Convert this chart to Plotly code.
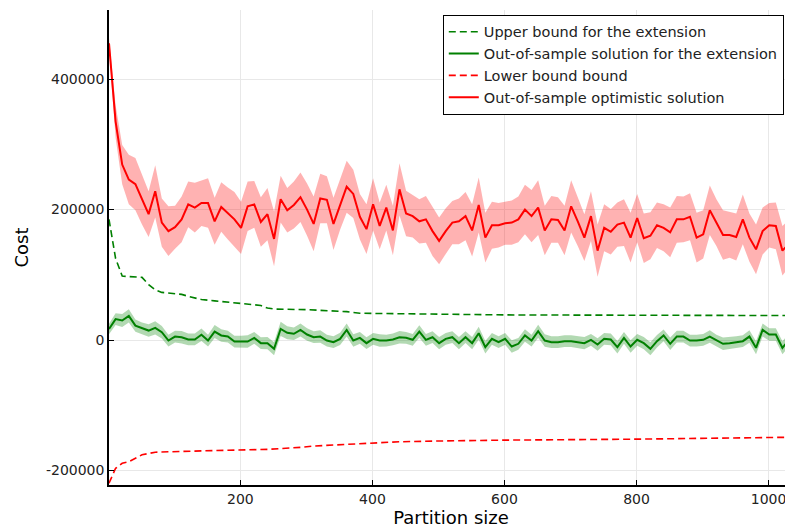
import plotly.graph_objects as go

# Partition sizes
partition = list(range(1, 1042, 10))

# Out-of-sample optimistic solution (red solid)
red_mean = [455000, 335000, 269000, 246000, 239000, 215000, 193000, 228000, 180000, 167000,
            173000, 185000, 208000, 203000, 210000, 210000, 182000, 204000, 194000, 185000,
            172000, 205000, 208000, 181000, 193000, 155000, 216000, 199000, 207000, 219000,
            200000, 178000, 217000, 215000, 178000, 207000, 235000, 224000, 189000, 170000,
            208000, 175000, 203000, 168000, 231000, 194000, 190000, 182000, 185000, 167000,
            152000, 167000, 180000, 182000, 190000, 168000, 207000, 157000, 176000, 176000,
            179000, 180000, 185000, 200000, 190000, 203000, 168000, 185000, 184000, 168000,
            205000, 182000, 157000, 190000, 137000, 172000, 166000, 177000, 180000, 157000,
            187000, 156000, 160000, 176000, 172000, 165000, 185000, 185000, 189000, 157000,
            162000, 199000, 180000, 161000, 161000, 158000, 185000, 157000, 139000, 167000,
            176000, 175000, 137000, 148000, 149000]
red_halfwidth = [8000, 25000, 30000, 38000, 40000, 38000, 35000, 40000, 37000, 38000,
                 33000, 35000, 35000, 38000, 35000, 38000, 36000, 38000, 40000, 42000,
                 40000, 38000, 36000, 38000, 40000, 42000, 36000, 34000, 36000, 38000,
                 40000, 42000, 38000, 36000, 40000, 38000, 40000, 37000, 35000, 38000,
                 40000, 36000, 35000, 38000, 40000, 35000, 33000, 34000, 36000, 38000,
                 36000, 35000, 33000, 35000, 37000, 40000, 42000, 38000, 36000, 34000,
                 33000, 34000, 35000, 38000, 40000, 42000, 38000, 36000, 35000, 38000,
                 40000, 38000, 36000, 38000, 40000, 36000, 35000, 34000, 36000, 38000,
                 37000, 38000, 36000, 35000, 36000, 38000, 36000, 35000, 36000, 38000,
                 37000, 38000, 36000, 38000, 35000, 36000, 38000, 37000, 38000, 36000,
                 34000, 36000, 38000, 36000, 35000]

# Out-of-sample solution for the extension (green solid)
green_mean = [17000, 32000, 30000, 37000, 22000, 18000, 14500, 18600, 12000, -800,
              5300, 4300, 800, 800, 8000, -800, 13000, 7000, 5300, -2300,
              -2300, -2300, 3300, -4800, -4800, -13500, 17000, 11000, 9500, 15500,
              8400, 4300, 5300, -800, -3300, 1800, 15500, -800, 3300, -4800,
              1800, -800, -800, 800, 4300, 3300, 300, 13000, 300, 4300,
              -4800, 1800, 4300, -4800, 4300, -4800, 10400, -11000, 1800, -3300,
              1800, -10000, -5800, 7000, -800, 13400, -800, -3300, -3300, -1800,
              -1800, -3300, -4800, 300, -6900, 1800, 800, -11000, 3300, -10000,
              300, -4800, -13500, -1800, 7000, -5800, 5300, 5300, -800, -800,
              300, 5300, -800, -5800, -4800, -3300, -1800, 5300, -12000, 15500,
              8400, 8400, -12000, 300, -800]
green_halfwidth = [8000, 9000, 10000, 10000, 9500, 9000, 9500, 10000, 9500, 9000,
                   9000, 9500, 9000, 9000, 9500, 9000, 10000, 9500, 9000, 9000,
                   9000, 9500, 9000, 9000, 9500, 10000, 11000, 10000, 9500, 10000,
                   9500, 9000, 9500, 9000, 9000, 9500, 10000, 9500, 9000, 9000,
                   9000, 9500, 9000, 9000, 9500, 9000, 9000, 9500, 9000, 9000,
                   9500, 9000, 9000, 9500, 9000, 9500, 10000, 9500, 9000, 9000,
                   9000, 9500, 9000, 9500, 9000, 10000, 9500, 9000, 9000, 9000,
                   9000, 9000, 9500, 9000, 9500, 9000, 9000, 9500, 9000, 9500,
                   9000, 9500, 10000, 9500, 9000, 9500, 9000, 9000, 9000, 9000,
                   9000, 9500, 9000, 9500, 9000, 9000, 9000, 9500, 10000, 10000,
                   9500, 9500, 10000, 9500, 9000]

# Upper bound for the extension (green dashed), breakpoints
upper_x = [1, 11, 21, 31, 41, 51, 61, 71, 81, 91, 101, 111, 121, 131, 141, 161, 181, 201,
           221, 231, 241, 251, 301, 341, 361, 381, 441, 501, 601, 801, 1041]
upper_y = [185000, 125000, 98000, 97000, 97000, 96000, 85000, 77000, 73000, 72000, 72000,
           70000, 67000, 64000, 62000, 60000, 58500, 56000, 54000, 53000, 49000, 47500,
           46500, 45000, 43500, 41000, 40500, 39000, 38500, 38000, 37500]

# Lower bound bound (red dashed), breakpoints
lower_x = [1, 11, 21, 31, 51, 71, 141, 241, 291, 311, 341, 441, 491, 601, 801, 951, 1041]
lower_y = [-219600, -196700, -189000, -186600, -176000, -172000, -170000, -167700, -164600,
           -162600, -161000, -156000, -155000, -153500, -152000, -150000, -149000]

series_names = ["Upper bound for the extension", "Out-of-sample solution for the extension",
                "Lower bound bound", "Out-of-sample optimistic solution"]

y_tickvals = [-200000, 0, 200000, 400000]
y_ticktext = ["-200000", "0", "200000", "400000"]
x_tickvals = [200, 400, 600, 800, 1000]

fig = go.Figure()

# Green band
g_up = [m + h for m, h in zip(green_mean, green_halfwidth)]
g_lo = [m - h for m, h in zip(green_mean, green_halfwidth)]
fig.add_trace(go.Scatter(x=partition, y=g_lo, mode="lines", line=dict(width=0),
                         showlegend=False, hoverinfo="skip"))
fig.add_trace(go.Scatter(x=partition, y=g_up, mode="lines", line=dict(width=0),
                         fill="tonexty", fillcolor="rgba(0,128,0,0.3)",
                         showlegend=False, hoverinfo="skip"))
# Red band
r_up = [m + h for m, h in zip(red_mean, red_halfwidth)]
r_lo = [m - h for m, h in zip(red_mean, red_halfwidth)]
fig.add_trace(go.Scatter(x=partition, y=r_lo, mode="lines", line=dict(width=0),
                         showlegend=False, hoverinfo="skip"))
fig.add_trace(go.Scatter(x=partition, y=r_up, mode="lines", line=dict(width=0),
                         fill="tonexty", fillcolor="rgba(255,0,0,0.3)",
                         showlegend=False, hoverinfo="skip"))

fig.add_trace(go.Scatter(x=upper_x, y=upper_y, mode="lines", name=series_names[0],
                         line=dict(color="#008000", width=1.6, dash="7px,4px")))
fig.add_trace(go.Scatter(x=partition, y=green_mean, mode="lines", name=series_names[1],
                         line=dict(color="#008000", width=2)))
fig.add_trace(go.Scatter(x=lower_x, y=lower_y, mode="lines", name=series_names[2],
                         line=dict(color="#ff0000", width=1.6, dash="7px,4px")))
fig.add_trace(go.Scatter(x=partition, y=red_mean, mode="lines", name=series_names[3],
                         line=dict(color="#ff0000", width=2)))

fig.update_layout(
    width=785, height=523,
    margin=dict(l=101, r=0, t=2, b=46),
    paper_bgcolor="white", plot_bgcolor="white",
    font=dict(family="DejaVu Sans", size=14, color="#222222"),
    showlegend=True,
    legend=dict(x=0.488, y=0.99, xanchor="left", yanchor="top", traceorder="normal",
                bgcolor="white", bordercolor="black", borderwidth=1,
                font=dict(size=14.5, color="#222222"), tracegroupgap=0),
    xaxis=dict(range=[1, 1037], tickvals=x_tickvals, ticks="inside", ticklen=5,
               tickcolor="black", showline=True, linecolor="black", linewidth=1.5,
               showgrid=True, gridcolor="#e8e8e8", gridwidth=1, zeroline=False,
               automargin=False, tickfont=dict(size=14),
               title=dict(text="Partition size", font=dict(size=18, color="black"), standoff=6)),
    yaxis=dict(range=[-222300, 506000], tickvals=y_tickvals, ticktext=y_ticktext,
               ticks="inside", ticklen=5, tickcolor="black", showline=True,
               linecolor="black", linewidth=1.5, showgrid=True, gridcolor="#e8e8e8",
               gridwidth=1, zeroline=False, automargin=False, tickfont=dict(size=14),
               title=dict(text="Cost", font=dict(size=18, color="black"), standoff=13)),
)

fig.write_html("out.html")
